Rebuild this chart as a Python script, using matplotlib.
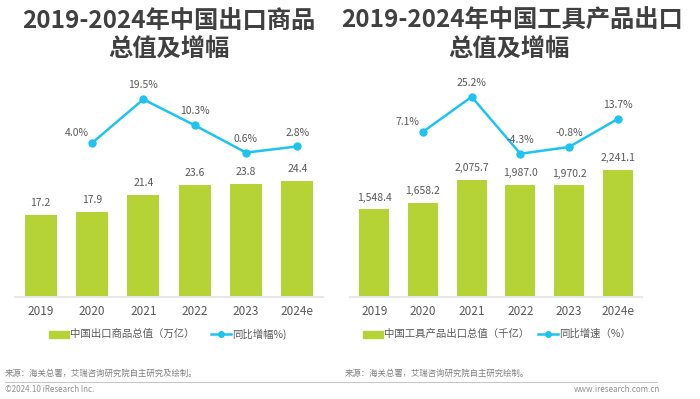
import matplotlib.pyplot as plt
import numpy as np

plt.rcParams['font.family'] = ['Noto Sans CJK SC', 'DejaVu Sans']

years = ['2019', '2020', '2021', '2022', '2023', '2024e']

# left chart: total export value (trillion yuan) and yoy growth
export_total = [17.2, 17.9, 21.4, 23.6, 23.8, 24.4]
export_growth = [None, 4.0, 19.5, 10.3, 0.6, 2.8]

# right chart: tool product export value (hundred billion) and yoy growth
tool_total = [1548.4, 1658.2, 2075.7, 1987.0, 1970.2, 2241.1]
tool_growth = [None, 7.1, 25.2, -4.3, -0.8, 13.7]

bar_color = '#B5D334'
line_color = '#1EC3F0'
text_color = '#595959'

W, H = 700, 399
fig = plt.figure(figsize=(7, 3.99), dpi=100)


def px_box(x0, y0, x1, y1):
    return [x0 / W, 1 - y1 / H, (x1 - x0) / W, (y1 - y0) / H]


def draw_panel(box, totals, growth, bar_ylim, line_ylim, fmt):
    ax = fig.add_axes(box)
    x = np.arange(len(years))
    ax.bar(x, totals, width=0.62, color=bar_color, zorder=2)
    for xi, v in zip(x, totals):
        ax.annotate(fmt.format(v), (xi, v), xytext=(0, 8.5), textcoords='offset points',
                    ha='center', va='center', fontsize=7.5, color=text_color)
    ax.set_xlim(-0.5, len(years) - 0.5)
    ax.set_ylim(*bar_ylim)
    ax.set_xticks(x)
    ax.set_xticklabels(years, fontsize=8.5, color=text_color)
    ax.tick_params(axis='x', length=0, pad=6)
    ax.set_yticks([])
    for s in ['top', 'right', 'left']:
        ax.spines[s].set_visible(False)
    ax.spines['bottom'].set_color('#E8E8E8')
    ax.spines['bottom'].set_linewidth(1.5)
    ax.patch.set_alpha(0)

    ax2 = ax.twinx()
    gx = [i for i, g in enumerate(growth) if g is not None]
    gy = [g for g in growth if g is not None]
    ax2.plot(gx, gy, color=line_color, lw=1.8, marker='o', ms=5, zorder=3)
    for i, (xi, g) in enumerate(zip(gx, gy)):
        off = (-11, 7) if i == 0 else (0, 10)
        ax2.annotate(f'{g:.1f}%', (xi, g), xytext=off, textcoords='offset points',
                     ha='center', va='center', fontsize=7.5, color=text_color)
    ax2.set_ylim(*line_ylim)
    ax2.set_yticks([])
    for s in ['top', 'right', 'left', 'bottom']:
        ax2.spines[s].set_visible(False)


draw_panel(px_box(15, 70, 323, 296.7), export_total, export_growth,
           (0, 47.8), (-50.5, 29.9), '{:.1f}')
draw_panel(px_box(350, 70, 642, 296.7), tool_total, tool_growth,
           (0, 4016), (-78.4, 39.1), '{:,.1f}')

# legends drawn by hand in figure pixel coordinates
ly = 1 - 334 / H
legends = [(49, '中国出口商品总值（万亿）', 211, '同比增幅%)'),
           (363, '中国工具产品出口总值（千亿）', 538, '同比增速（%）')]
for bx, blabel, lx, llabel in legends:
    fig.patches.append(plt.Rectangle((bx / W, ly - 3.5 / H), 20 / W, 7 / H,
                                     color=bar_color, transform=fig.transFigure))
    fig.text((bx + 21) / W, ly, blabel, fontsize=7.5, color=text_color, va='center')
    fig.lines.append(plt.Line2D([lx / W, (lx + 10) / W, (lx + 20) / W], [ly, ly, ly],
                                color=line_color, lw=1.8, marker='o', ms=4, markevery=[1],
                                transform=fig.transFigure))
    fig.text((lx + 21) / W, ly, llabel, fontsize=7.5, color=text_color, va='center')

title_kw = dict(fontsize=17.5, fontweight='bold', color='#404040', ha='center', va='center')
fig.text(169 / W, 1 - 21 / H, '2019-2024年中国出口商品', **title_kw)
fig.text(169 / W, 1 - 49 / H, '总值及增幅', **title_kw)
fig.text(512 / W, 1 - 21 / H, '2019-2024年中国工具产品出口', **title_kw)
fig.text(509 / W, 1 - 49 / H, '总值及增幅', **title_kw)

fig.text(5 / W, 1 - 373 / H, '来源：海关总署，艾瑞咨询研究院自主研究及绘制。', fontsize=6,
         color='#808080', va='center')
fig.text(345 / W, 1 - 373 / H, '来源：海关总署，艾瑞咨询研究院自主研究绘制。', fontsize=6,
         color='#808080', va='center')
fig.lines.append(plt.Line2D([5 / W, 657 / W], [1 - 382 / H, 1 - 382 / H], color='#C8C8C8',
                            lw=0.8, transform=fig.transFigure))
fig.text(5 / W, 1 - 390 / H, '©2024.10 iResearch Inc.', fontsize=5.8, color='#909090', va='center')
fig.text(660 / W, 1 - 390 / H, 'www.iresearch.com.cn', fontsize=5.8, color='#909090',
         va='center', ha='right')

fig.savefig('out.png', dpi=100)
